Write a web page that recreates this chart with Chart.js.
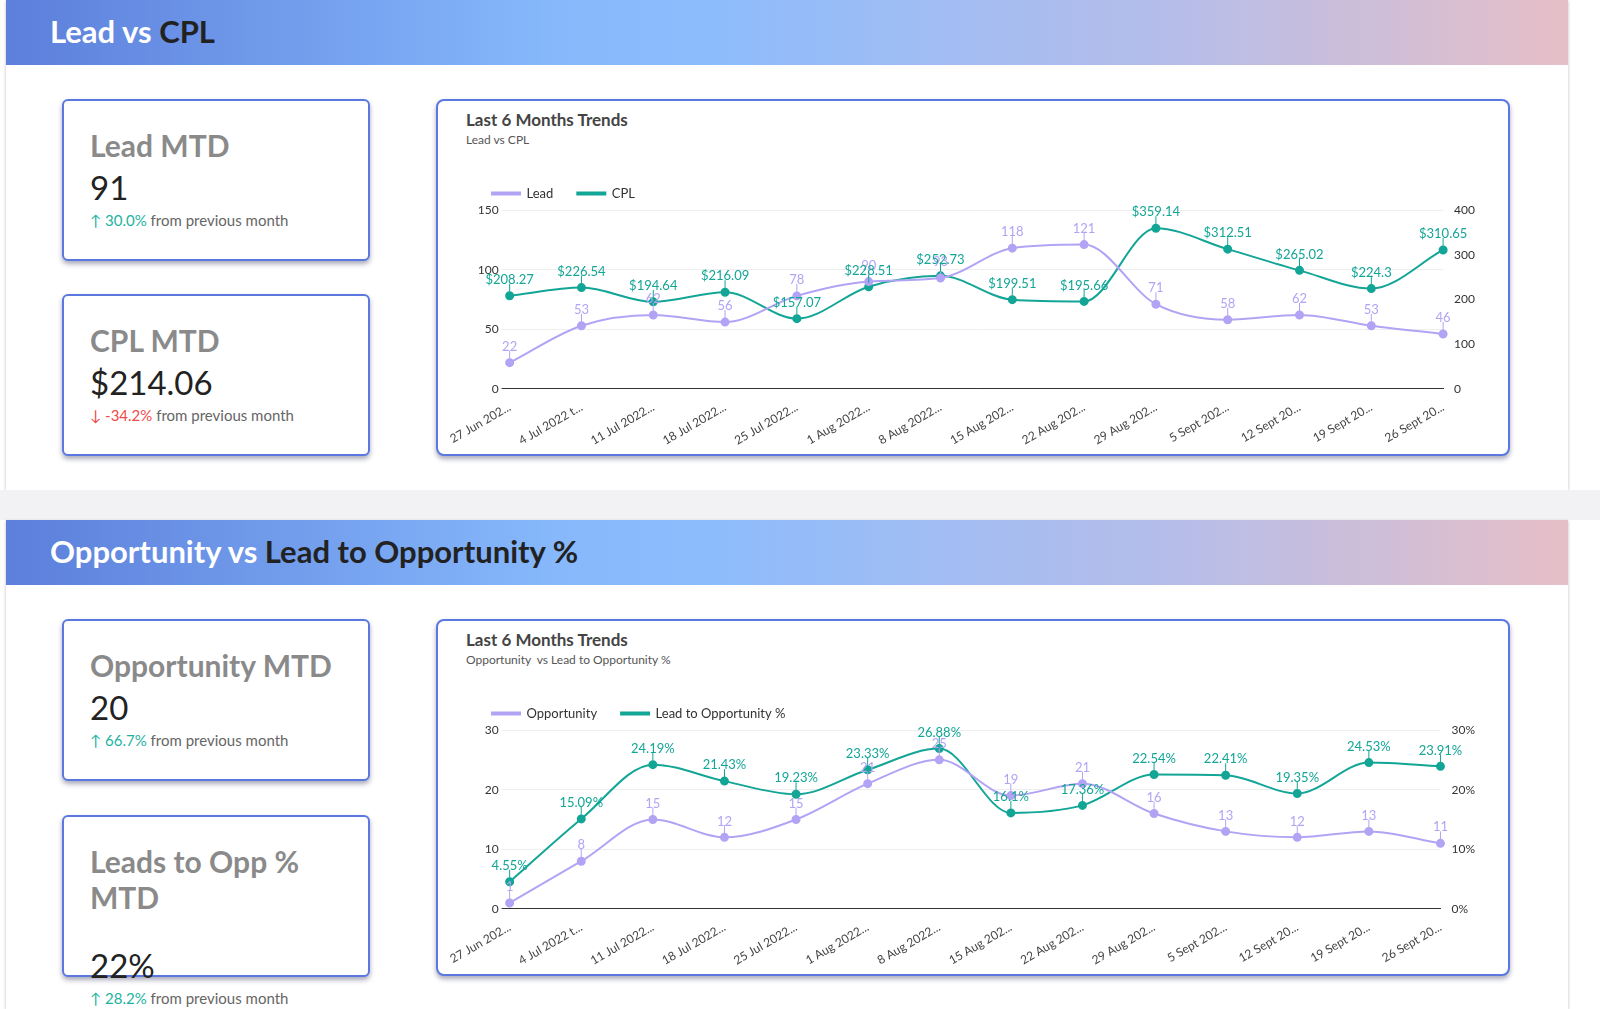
<!DOCTYPE html>
<html><head><meta charset="utf-8">
<script src="https://cdn.jsdelivr.net/npm/chart.js@4/dist/chart.umd.min.js"></script>
<style>
body{margin:0;width:1600px;height:1009px;background:#fff;font-family:Lato,sans-serif;position:relative;overflow:hidden}
.band{position:absolute;left:6px;width:1562px;height:65px;background:linear-gradient(90deg,#5c7fdb 0%,#86b8fb 35%,#8dbcfc 45%,#b6bde9 75%,#e6bfc7 100%);color:#fff;font-size:31px;font-weight:bold;line-height:62px;padding-left:44px;box-sizing:border-box}
.band span{color:#222}
.sheet{position:absolute;left:6px;width:1562px;background:#fff;box-shadow:0 1px 3px #bbb}
.gap{position:absolute;left:0;top:490px;width:1600px;height:30px;background:#f2f2f4}
.card{position:absolute;left:62px;width:308px;border:2px solid #5a78e0;border-radius:6px;box-shadow:0 3px 5px #aab;box-sizing:border-box;padding:26px 0 0 26px;background:#fff}
.card .t{font-size:30px;font-weight:bold;color:#8a8a8a}
.card .v{font-size:33px;color:#222;margin-top:4px}
.card .s{font-size:15px;color:#666;margin-top:4px}
.up{color:#1cb3a0}.dn{color:#f04a4a}
.box{position:absolute;left:436px;width:1074px;height:357px;border:2px solid #5a78e0;border-radius:8px;box-shadow:0 3px 5px #aab;box-sizing:border-box;background:#fff}
.box .h{position:absolute;left:28px;top:8px;font-size:17px;font-weight:bold;color:#444}
.box .sh{position:absolute;left:28px;top:31px;font-size:12px;color:#555}
.box canvas{position:absolute;left:10px;top:62px}
</style></head><body>
<div class="sheet" style="top:0;height:490px"></div>
<div class="gap"></div>
<div class="sheet" style="top:520px;height:489px"></div>
<div class="band" style="top:0">Lead vs <span>CPL</span></div>
<div class="band" style="top:520px">Opportunity vs <span>Lead to Opportunity %</span></div>

<div class="card" style="top:99px;height:162px"><div class="t">Lead MTD</div><div class="v">91</div><div class="s"><span class="up">&#8593; 30.0%</span> from previous month</div></div>
<div class="card" style="top:294px;height:162px"><div class="t">CPL MTD</div><div class="v">$214.06</div><div class="s"><span class="dn">&#8595; -34.2%</span> from previous month</div></div>
<div class="card" style="top:619px;height:162px"><div class="t">Opportunity MTD</div><div class="v">20</div><div class="s"><span class="up">&#8593; 66.7%</span> from previous month</div></div>
<div class="card" style="top:815px;height:162px"><div class="t">Leads to Opp % MTD</div><div class="v" style="margin-top:30px">22%</div><div class="s"><span class="up">&#8593; 28.2%</span> from previous month</div></div>

<div class="box" style="top:99px"><div class="h">Last 6 Months Trends</div><div class="sh">Lead vs CPL</div><canvas id="c1"></canvas></div>
<div class="box" style="top:619px"><div class="h">Last 6 Months Trends</div><div class="sh">Opportunity &nbsp;vs Lead to Opportunity %</div><canvas id="c2"></canvas></div>

<script>
const weeks = ['27 Jun 202...','4 Jul 2022 t...','11 Jul 2022...','18 Jul 2022...','25 Jul 2022...','1 Aug 2022...','8 Aug 2022...','15 Aug 202...','22 Aug 202...','29 Aug 202...','5 Sept 202...','12 Sept 20...','19 Sept 20...','26 Sept 20...'];
const lead = [22,53,62,56,78,90,93,118,121,71,58,62,53,46];
const cpl = [208.27,226.54,194.64,216.09,157.07,228.51,252.73,199.51,195.66,359.14,312.51,265.02,224.3,310.65];
const opp = [1,8,15,12,15,21,25,19,21,16,13,12,13,11];
const leadToOpp = [4.55,15.09,24.19,21.43,19.23,23.33,26.88,16.1,17.36,22.54,22.41,19.35,24.53,23.91];

const purple = '#b3a3f5', teal = '#13a596';

const pointLabels = {
    id: 'pointLabels',
    afterDatasetsDraw(chart) {
        const ctx = chart.ctx;
        ctx.save();
        ctx.font = '13px Lato';
        ctx.textAlign = 'center';
        chart.data.datasets.forEach((ds, i) => {
            chart.getDatasetMeta(i).data.forEach((pt, j) => {
                ctx.strokeStyle = ds.borderColor;
                ctx.lineWidth = 1;
                ctx.beginPath();
                ctx.moveTo(pt.x, pt.y - 4);
                ctx.lineTo(pt.x, pt.y - 12);
                ctx.stroke();
                ctx.fillStyle = ds.borderColor;
                ctx.fillText(ds.fmt(ds.data[j]), pt.x, pt.y - 16);
            });
        });
        ctx.restore();
    }
};

function makeChart(id, l1, d1, f1, l2, d2, f2, left, right) {
    const el = document.getElementById(id);
    el.width = 1050; el.height = 288;
    el.style.width = '1050px'; el.style.height = '288px';
    const line = (label, data, color, axis, fmt) => ({
        label: label, data: data, yAxisID: axis, fmt: fmt,
        borderColor: color, backgroundColor: color, borderWidth: 2,
        pointRadius: 3.5, tension: 0.4, cubicInterpolationMode: 'monotone'
    });
    new Chart(el, {
        type: 'line',
        data: { labels: weeks, datasets: [line(l1, d1, purple, 'y', f1), line(l2, d2, teal, 'y1', f2)] },
        options: {
            responsive: false, animation: false,
            layout: { padding: { left: 20, right: 20, top: 0 } },
            scales: {
                x: {
                    grid: { display: false },
                    border: { color: '#333' },
                    ticks: { color: '#444', font: { family: 'Lato', size: 12 }, maxRotation: 30, minRotation: 30, autoSkip: false }
                },
                y: {
                    min: 0, max: left.max, ticks: { stepSize: left.step, color: '#333', font: { family: 'Lato', size: 12 }, callback: left.cb },
                    grid: { color: ctx => ctx.tick.value === 0 ? '#333' : '#eee' }, border: { display: false }
                },
                y1: {
                    position: 'right', min: 0, max: right.max,
                    ticks: { stepSize: right.step, color: '#333', font: { family: 'Lato', size: 12 }, callback: right.cb },
                    grid: { display: false }, border: { display: false }
                }
            },
            plugins: {
                legend: {
                    align: 'start',
                    labels: { usePointStyle: false, boxWidth: 28, boxHeight: 2, color: '#333', font: { family: 'Lato', size: 13 }, padding: 24 }
                },
                tooltip: { enabled: false }
            }
        },
        plugins: [pointLabels]
    });
}

makeChart('c1', 'Lead', lead, v => String(v), 'CPL', cpl, v => '$' + v,
    { max: 150, step: 50, cb: v => v }, { max: 400, step: 100, cb: v => v });
makeChart('c2', 'Opportunity', opp, v => String(v), 'Lead to Opportunity %', leadToOpp, v => v + '%',
    { max: 30, step: 10, cb: v => v }, { max: 30, step: 10, cb: v => v + '%' });
</script>
</body></html>
